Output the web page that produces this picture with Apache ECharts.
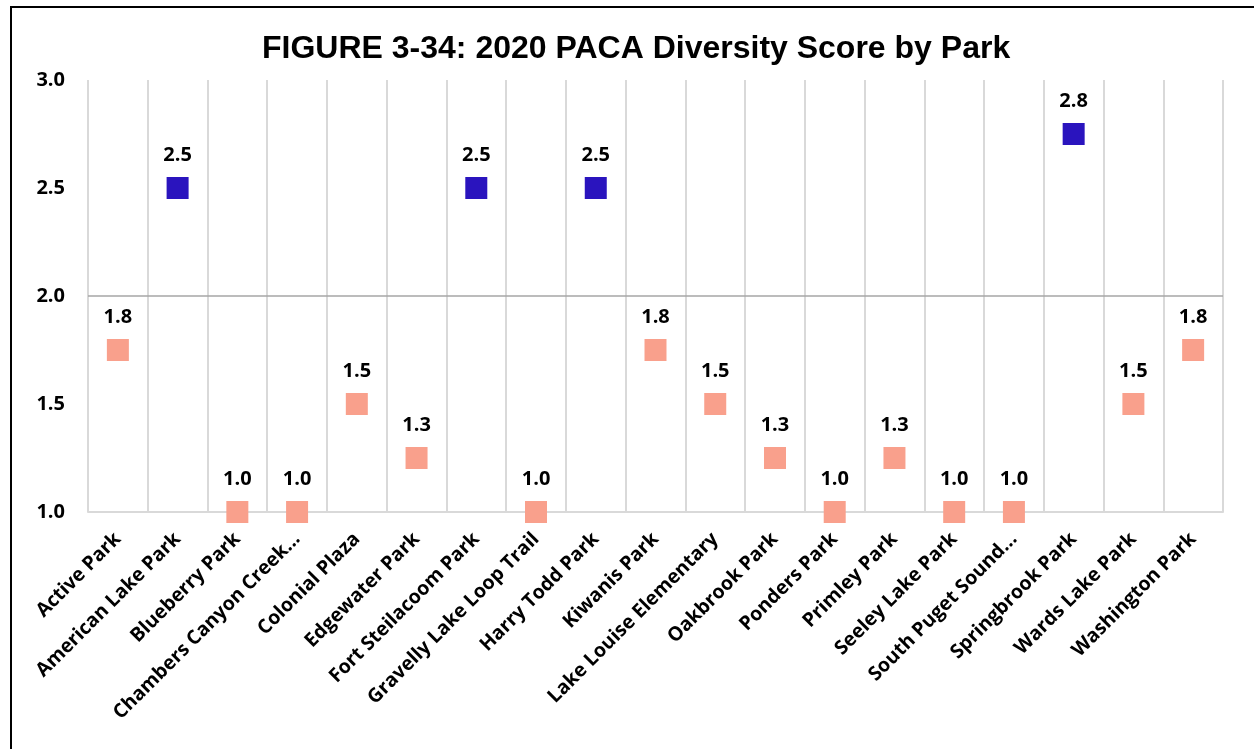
<!DOCTYPE html>
<html>
<head>
<meta charset="utf-8">
<script src="https://cdn.jsdelivr.net/npm/echarts@6/dist/echarts.min.js"></script>
<style>
html,body{margin:0;padding:0;background:#fff;}
#c{width:1254px;height:749px;}
</style>
</head>
<body>
<div id="c"></div>
<script>
const parks = ["Active Park","American Lake Park","Blueberry Park","Chambers Canyon Creek...","Colonial Plaza","Edgewater Park","Fort Steilacoom Park","Gravelly Lake Loop Trail","Harry Todd Park","Kiwanis Park","Lake Louise Elementary","Oakbrook Park","Ponders Park","Primley Park","Seeley Lake Park","South Puget Sound...","Springbrook Park","Wards Lake Park","Washington Park"];
const scores = [1.75,2.5,1.0,1.0,1.5,1.25,2.5,1.0,2.5,1.75,1.5,1.25,1.0,1.25,1.0,1.0,2.75,1.5,1.75];
const yTicks = [1.0,1.5,2.0,2.5,3.0];
const threshold = 2.0;

const chart = echarts.init(document.getElementById('c'));
const lblFont = "'Open Sans', sans-serif";
chart.setOption({
  animation:false,
  backgroundColor:'#fff',
  title:{
    text:'FIGURE 3-34: 2020 PACA Diversity Score by Park',
    left:257, top:28,
    textStyle:{fontFamily:"'Liberation Sans', Arial, sans-serif",fontWeight:'bold',fontSize:32,color:'#000'}
  },
  graphic:[{type:'rect',shape:{x:11,y:7,width:1260,height:760},style:{fill:'none',stroke:'#000',lineWidth:2},z:100}],
  grid:{left:88,right:31,top:80,bottom:237},
  xAxis:{
    type:'category',data:parks,boundaryGap:true,
    axisLine:{show:true,lineStyle:{color:'#d9d9d9',width:2}},
    axisTick:{show:false},
    splitLine:{show:true,interval:0,lineStyle:{color:'#d9d9d9',width:2}},
    axisLabel:{interval:0,rotate:45,margin:24,color:'#000',fontFamily:lblFont,fontWeight:'bold',fontSize:19.5}
  },
  yAxis:{
    type:'value',min:yTicks[0],max:yTicks[yTicks.length-1],interval:0.5,
    axisLine:{show:false},axisTick:{show:false},splitLine:{show:false},
    axisLabel:{margin:23,color:'#000',fontFamily:lblFont,fontWeight:'bold',fontSize:20,formatter:v=>v.toFixed(1)}
  },
  series:[{
    type:'scatter',symbol:'rect',symbolSize:22,
    data:scores,
    itemStyle:{opacity:1,color:p=>p.value>threshold?'#2A14BE':'#F9A08C'},
    label:{show:true,position:'top',distance:12,color:'#000',fontFamily:lblFont,fontWeight:'bold',fontSize:20,formatter:p=>p.value.toFixed(1)},
    markLine:{silent:true,symbol:'none',label:{show:false},lineStyle:{color:'#a6a6a6',width:1.5,type:'solid'},data:[{yAxis:threshold}]}
  }]
});
</script>
</body>
</html>
